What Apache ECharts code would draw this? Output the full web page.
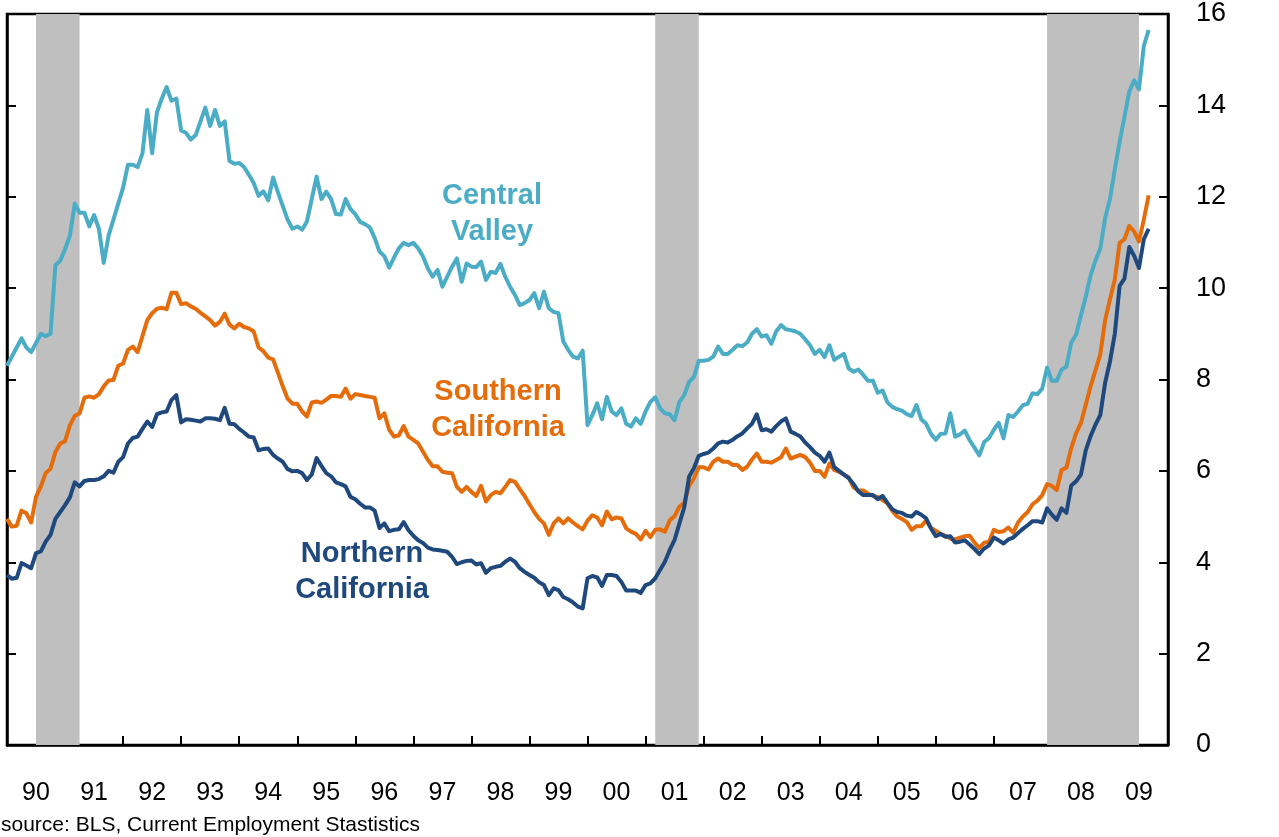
<!DOCTYPE html>
<html>
<head>
<meta charset="utf-8">
<script src="https://cdn.jsdelivr.net/npm/echarts@6/dist/echarts.min.js"></script>
<style>
  html, body { margin: 0; padding: 0; background: #fff; }
  #chart { width: 1279px; height: 837px; }
</style>
</head>
<body>
<div id="chart"></div>
<script>
// monthly unemployment rate, Jan 1990 .. Sep 2009
const centralValley = [
  8.3, 8.5, 8.7, 8.9, 8.7, 8.6, 8.8, 9.0, 8.95, 9.0, 10.5, 10.6,
  10.85, 11.15, 11.85, 11.65, 11.65, 11.35, 11.6, 11.3, 10.55, 11.15, 11.5, 11.85,
  12.2, 12.7, 12.7, 12.65, 12.95, 13.9, 12.95, 13.85, 14.15, 14.4, 14.1, 14.15,
  13.45, 13.4, 13.25, 13.35, 13.65, 13.95, 13.55, 13.9, 13.55, 13.65, 12.78, 12.72,
  12.74, 12.65, 12.48, 12.3, 12.02, 12.12, 11.92, 12.42, 12.1, 11.8, 11.5, 11.3,
  11.35, 11.28, 11.46, 11.95, 12.44, 11.95, 12.11, 11.95, 11.62, 11.61, 11.95, 11.73,
  11.62, 11.45, 11.4, 11.33, 11.1, 10.8, 10.7, 10.45, 10.67, 10.87, 10.99, 10.94,
  10.99, 10.87, 10.69, 10.43, 10.25, 10.4, 10.03, 10.25, 10.47, 10.65, 10.14, 10.54,
  10.47, 10.46, 10.58, 10.18, 10.36, 10.33, 10.53, 10.25, 10.03, 9.85, 9.63, 9.67,
  9.74, 9.89, 9.56, 9.92, 9.56, 9.48, 9.45, 8.83, 8.65, 8.5, 8.46, 8.63,
  7.0, 7.22, 7.48, 7.13, 7.62, 7.3, 7.22, 7.37, 7.03, 6.97, 7.15, 7.03,
  7.3, 7.51, 7.61, 7.37, 7.26, 7.24, 7.11, 7.51, 7.66, 7.95, 8.06, 8.41,
  8.41, 8.43, 8.5, 8.72, 8.56, 8.56, 8.65, 8.75, 8.73, 8.81, 9.0, 9.1,
  8.94, 8.97, 8.78, 9.05, 9.19, 9.1, 9.08, 9.05, 9.0, 8.88, 8.75, 8.56,
  8.65, 8.49, 8.75, 8.43, 8.5, 8.56, 8.24, 8.17, 8.22, 8.1, 7.97, 7.97,
  7.71, 7.76, 7.5, 7.4, 7.35, 7.32, 7.24, 7.2, 7.44, 7.13, 7.03, 6.81,
  6.68, 6.81, 6.82, 7.26, 6.75, 6.8, 6.88, 6.67, 6.51, 6.34, 6.63, 6.72,
  6.9, 7.05, 6.71, 7.22, 7.18, 7.3, 7.44, 7.47, 7.7, 7.68, 7.8, 8.26,
  7.97, 7.97, 8.22, 8.28, 8.81, 8.98, 9.4, 9.81, 10.28, 10.6, 10.86, 11.53,
  11.95, 12.6, 13.2, 13.75, 14.3, 14.55, 14.35, 15.3, 15.65
]

const southernCalifornia = [
  4.95, 4.78, 4.8, 5.13, 5.07, 4.87, 5.43, 5.66, 5.95, 6.05, 6.41, 6.6,
  6.65, 7.0, 7.2, 7.26, 7.6, 7.63, 7.6, 7.68, 7.85, 7.98, 7.99, 8.3,
  8.35, 8.65, 8.72, 8.6, 8.95, 9.3, 9.45, 9.55, 9.57, 9.54, 9.9, 9.9,
  9.65, 9.67, 9.6, 9.55, 9.46, 9.38, 9.3, 9.18, 9.26, 9.44, 9.2, 9.12,
  9.22, 9.15, 9.12, 9.05, 8.7, 8.62, 8.48, 8.44, 8.15, 7.85, 7.58, 7.47,
  7.47, 7.3, 7.19, 7.5, 7.52, 7.49, 7.56, 7.64, 7.64, 7.62, 7.8, 7.58,
  7.68, 7.66, 7.64, 7.62, 7.6, 7.15, 7.26, 6.9, 6.75, 6.78, 6.98, 6.75,
  6.68, 6.6, 6.42, 6.24, 6.1, 6.1, 5.98, 5.96, 5.95, 5.65, 5.54, 5.65,
  5.54, 5.45, 5.67, 5.33, 5.47, 5.54, 5.51, 5.65, 5.8, 5.76, 5.6, 5.45,
  5.27, 5.1, 4.95, 4.85, 4.6, 4.85, 4.96, 4.85, 4.96, 4.87, 4.79, 4.72,
  4.91, 5.03, 4.98, 4.81, 5.11, 4.94, 4.98, 4.96, 4.74, 4.67, 4.62, 4.5,
  4.69, 4.55, 4.71, 4.72, 4.67, 4.92, 5.01, 5.22, 5.3, 5.67, 5.84, 6.08,
  6.08, 6.03, 6.2, 6.27, 6.2, 6.2, 6.13, 6.13, 6.02, 6.09, 6.25, 6.38,
  6.2, 6.2, 6.18, 6.24, 6.3, 6.49, 6.27, 6.31, 6.35, 6.3, 6.18, 6.0,
  6.0, 5.87, 6.16, 6.02, 5.98, 5.92, 5.86, 5.64, 5.57, 5.57, 5.5, 5.45,
  5.43, 5.36, 5.29, 5.13, 5.0, 4.95, 4.88, 4.71, 4.79, 4.79, 4.91, 4.75,
  4.69, 4.62, 4.58, 4.52, 4.5, 4.54, 4.57, 4.58, 4.43, 4.31, 4.43, 4.45,
  4.71, 4.66, 4.68, 4.76, 4.65, 4.87, 5.0, 5.1, 5.27, 5.35, 5.47, 5.71,
  5.67, 5.58, 6.02, 6.07, 6.5, 6.82, 7.05, 7.45, 7.85, 8.2, 8.55, 9.3,
  9.75, 10.19, 10.99, 11.07, 11.36, 11.24, 11.02, 11.5, 12.03
]

const northernCalifornia = [
  3.72, 3.64, 3.66, 3.98, 3.93, 3.87, 4.2, 4.24, 4.45, 4.6, 4.95, 5.1,
  5.25, 5.42, 5.75, 5.66, 5.78, 5.8, 5.8, 5.82, 5.88, 6.0, 5.96, 6.2,
  6.3, 6.6, 6.72, 6.75, 6.92, 7.08, 6.96, 7.24, 7.28, 7.3, 7.55, 7.66,
  7.06, 7.13, 7.12, 7.1, 7.08, 7.15, 7.15, 7.14, 7.11, 7.38, 7.03, 7.02,
  6.92, 6.84, 6.75, 6.73, 6.45, 6.48, 6.49, 6.35, 6.27, 6.2, 6.04, 5.99,
  6.0, 5.95, 5.8, 5.92, 6.28, 6.11, 5.95, 5.88, 5.75, 5.71, 5.66, 5.43,
  5.38, 5.28, 5.2, 5.2, 5.13, 4.75, 4.85, 4.68, 4.71, 4.72, 4.88, 4.7,
  4.58, 4.48, 4.42, 4.32, 4.28, 4.27, 4.25, 4.23, 4.12, 3.96, 4.0, 4.03,
  4.04, 3.95, 3.98, 3.77, 3.87, 3.9, 3.92, 4.01, 4.08, 4.01, 3.87, 3.79,
  3.72, 3.66, 3.56, 3.5, 3.28, 3.43, 3.39, 3.24, 3.19, 3.12, 3.03, 2.99,
  3.65, 3.7, 3.67, 3.48, 3.72, 3.72, 3.7, 3.57, 3.38, 3.38, 3.38, 3.33,
  3.5, 3.54, 3.65, 3.83, 4.01, 4.27, 4.49, 4.85, 5.2, 5.87, 6.06, 6.33,
  6.37, 6.4, 6.49, 6.6, 6.64, 6.62, 6.68, 6.76, 6.82, 6.93, 7.03, 7.24,
  6.89, 6.91, 6.86, 6.98, 7.08, 7.15, 6.86, 6.81, 6.75, 6.62, 6.52, 6.4,
  6.33, 6.2, 6.4, 6.08, 6.0, 5.92, 5.84, 5.71, 5.55, 5.47, 5.47, 5.47,
  5.38, 5.45, 5.3, 5.16, 5.1, 5.08, 5.02, 5.0, 5.1, 5.04, 4.96, 4.74,
  4.57, 4.62, 4.56, 4.57, 4.43, 4.45, 4.48, 4.39, 4.29, 4.18, 4.3, 4.37,
  4.54, 4.48, 4.41, 4.5, 4.54, 4.64, 4.73, 4.81, 4.9, 4.9, 4.87, 5.18,
  5.04, 4.93, 5.18, 5.08, 5.68, 5.77, 5.92, 6.45, 6.76, 7.01, 7.22, 7.93,
  8.39, 9.0, 10.05, 10.21, 10.9, 10.71, 10.44, 11.07, 11.3
]

const yearLabels = ['90', '91', '92', '93', '94', '95', '96', '97', '98', '99',
  '00', '01', '02', '03', '04', '05', '06', '07', '08', '09']

// recessions, in months since Jan 1990: [start, end]
const recessions = [[6, 15], [134, 143], [215, 234]]

const FONT = '"Liberation Sans", Arial, sans-serif'

const chart = echarts.init(document.getElementById('chart'))

const toPoints = (values) => values.map((v, i) => [i, v])

const yearBoundaries = yearLabels.map((_, i) => i * 12).slice(1)
const yearCenters = yearLabels.map((_, i) => i * 12 + 6)

const lineSeries = (name, values, color) => ({
  name: name,
  type: 'line',
  data: toPoints(values),
  showSymbol: false,
  z: 3,
  lineStyle: { color: color, width: 4, join: 'round' },
  emphasis: { disabled: true },
})

const valueAxisY = (position, showLabels) => ({
  type: 'value',
  position: position,
  min: 0,
  max: 16,
  interval: 2,
  axisLine: { show: true, onZero: false, lineStyle: { color: '#000', width: 2.5 } },
  axisTick: { show: true, inside: true, length: 9, lineStyle: { color: '#000', width: 2 } },
  axisLabel: {
    show: showLabels,
    color: '#000',
    fontFamily: FONT,
    fontSize: 27,
    margin: 28,
  },
  splitLine: { show: false },
})

const annotation = (text, x, y, color) => ({
  type: 'text',
  x: x,
  y: y,
  style: {
    text: text,
    fill: color,
    font: 'bold 29px ' + FONT,
    align: 'center',
    verticalAlign: 'top',
    lineHeight: 36,
  },
})

const option = {
  animation: false,
  grid: {
    left: 7,
    right: 111,
    top: 14,
    bottom: 92,
    show: true,
    borderColor: '#000',
    borderWidth: 2.5,
    containLabel: false,
  },
  xAxis: {
    type: 'value',
    min: 0,
    max: 240,
    axisLine: { show: true, onZero: false, lineStyle: { color: '#000', width: 2.5 } },
    axisTick: {
      show: true,
      inside: true,
      length: 9,
      customValues: yearBoundaries,
      lineStyle: { color: '#000', width: 2 },
    },
    axisLabel: {
      customValues: yearCenters,
      formatter: (v) => yearLabels[Math.round((v - 6) / 12)],
      color: '#000',
      fontFamily: FONT,
      fontSize: 25,
      margin: 36,
    },
    splitLine: { show: false },
  },
  yAxis: [valueAxisY('right', true), valueAxisY('left', false)],
  series: [
    {
      name: 'recessions',
      type: 'line',
      data: [],
      z: 1,
      markArea: {
        silent: true,
        itemStyle: { color: '#BFBFBF', opacity: 1 },
        data: recessions.map(([a, b]) => [{ xAxis: a }, { xAxis: b }]),
      },
    },
    lineSeries('Central Valley', centralValley, '#4BACC6'),
    lineSeries('Southern California', southernCalifornia, '#E46C0A'),
    lineSeries('Northern California', northernCalifornia, '#1F497D'),
  ],
  graphic: [
    annotation('Central\nValley', 492, 178, '#4BACC6'),
    annotation('Southern\nCalifornia', 498, 374, '#E46C0A'),
    annotation('Northern\nCalifornia', 362, 536, '#1F497D'),
    {
      type: 'text',
      x: 1,
      y: 815,
      style: {
        text: 'source: BLS, Current Employment Stastistics',
        fill: '#000',
        font: '21px ' + FONT,
      },
    },
  ],
}

chart.setOption(option)
</script>
</body>
</html>
